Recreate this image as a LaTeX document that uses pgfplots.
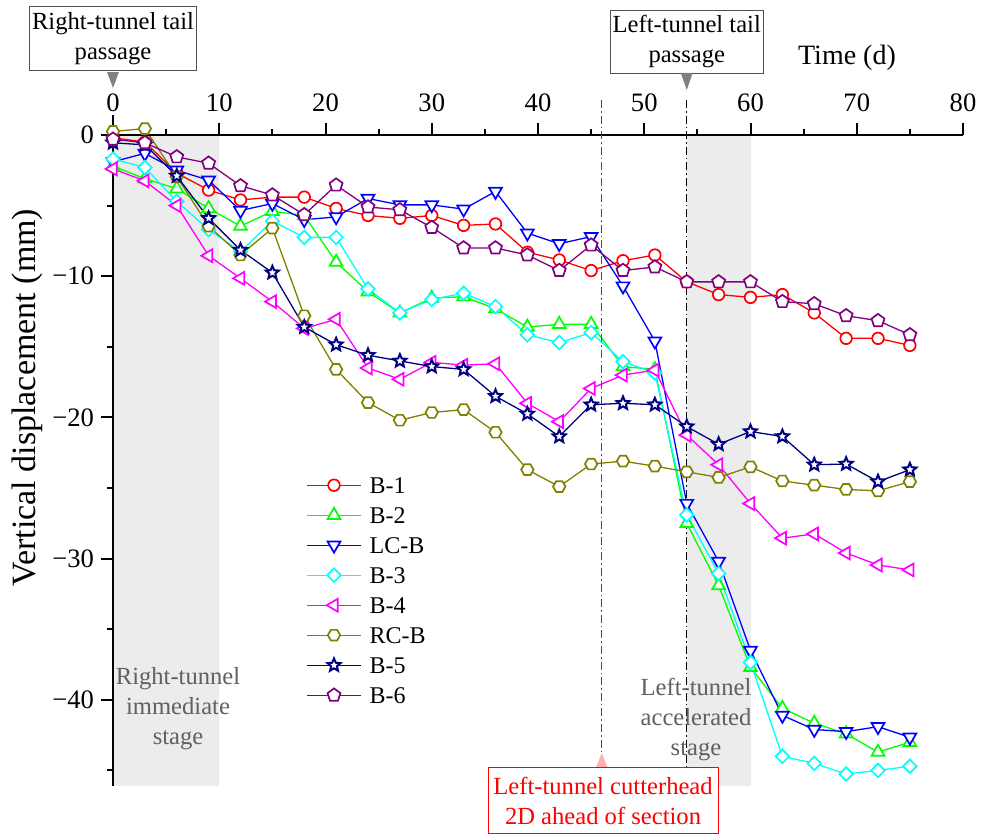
\documentclass[border=0pt]{standalone}
\usepackage{fontspec}
\setmainfont{Liberation Serif}
\usepackage{pgfplots}
\usepackage{pgfplotstable}
\pgfplotsset{compat=1.18}
\usetikzlibrary{plotmarks}

% hollow hexagon and hollow five-pointed star marks
\pgfdeclareplotmark{hexagon}{%
  \pgfpathmoveto{\pgfpointpolar{0}{\pgfplotmarksize}}%
  \pgfpathlineto{\pgfpointpolar{60}{\pgfplotmarksize}}%
  \pgfpathlineto{\pgfpointpolar{120}{\pgfplotmarksize}}%
  \pgfpathlineto{\pgfpointpolar{180}{\pgfplotmarksize}}%
  \pgfpathlineto{\pgfpointpolar{240}{\pgfplotmarksize}}%
  \pgfpathlineto{\pgfpointpolar{300}{\pgfplotmarksize}}%
  \pgfpathclose
  \pgfusepathqfillstroke
}
\pgfdeclareplotmark{ostar}{%
  \pgfpathmoveto{\pgfpointpolar{90}{\pgfplotmarksize}}%
  \pgfpathlineto{\pgfpointpolar{126}{0.45\pgfplotmarksize}}%
  \pgfpathlineto{\pgfpointpolar{162}{\pgfplotmarksize}}%
  \pgfpathlineto{\pgfpointpolar{198}{0.45\pgfplotmarksize}}%
  \pgfpathlineto{\pgfpointpolar{234}{\pgfplotmarksize}}%
  \pgfpathlineto{\pgfpointpolar{270}{0.45\pgfplotmarksize}}%
  \pgfpathlineto{\pgfpointpolar{306}{\pgfplotmarksize}}%
  \pgfpathlineto{\pgfpointpolar{342}{0.45\pgfplotmarksize}}%
  \pgfpathlineto{\pgfpointpolar{18}{\pgfplotmarksize}}%
  \pgfpathlineto{\pgfpointpolar{54}{0.45\pgfplotmarksize}}%
  \pgfpathclose
  \pgfusepathqfillstroke
}

\definecolor{cRed}{RGB}{255,0,0}
\definecolor{cGreen}{RGB}{0,255,0}
\definecolor{cBlue}{RGB}{0,0,255}
\definecolor{cCyan}{RGB}{0,255,255}
\definecolor{cMag}{RGB}{255,0,255}
\definecolor{cOlive}{RGB}{128,128,0}
\definecolor{cNavy}{RGB}{0,0,128}
\definecolor{cPurple}{RGB}{128,0,128}
\definecolor{stageshade}{RGB}{236,236,236}
\definecolor{boxgray}{RGB}{80,80,80}
\definecolor{stagegray}{RGB}{96,96,96}

% settlement (mm) of each monitoring point versus time (d)
\pgfplotstableread{
t   B1     B2     LCB    B3     B4     RCB    B5     B6
0   -0.2   -2.2   -1.9   -1.7   -2.4    0.25  -0.55  -0.3
3   -0.5   -3.1   -1.3   -2.3   -3.25   0.45  -0.7   -0.55
6   -2.7   -3.8   -2.5   -4.7   -5.0   -2.95  -2.9   -1.55
9   -3.9   -5.2   -3.2   -6.7   -8.55  -6.45  -5.9   -2.0
12  -4.6   -6.45  -5.35  -8.25 -10.15  -8.5   -8.15  -3.6
15  -4.4   -5.4   -4.85  -6.1  -11.8   -6.6   -9.75  -4.25
18  -4.4   -5.7   -6.0   -7.25 -13.7  -12.8  -13.6   -5.65
21  -5.2   -9.0   -5.8   -7.25 -13.05 -16.6  -14.85  -3.55
24  -5.7  -11.1   -4.5  -10.9  -16.5  -18.95 -15.6   -5.1
27  -5.9  -12.6   -4.95 -12.6  -17.3  -20.2  -16.0   -5.3
30  -5.7  -11.55  -4.95 -11.65 -16.1  -19.65 -16.4   -6.55
33  -6.4  -11.45  -5.25 -11.2  -16.3  -19.45 -16.6   -8.0
36  -6.3  -12.3   -4.0  -12.15 -16.2  -21.05 -18.5   -8.0
39  -8.3  -13.6   -6.95 -14.15 -19.0  -23.7  -19.75  -8.5
42  -8.85 -13.4   -7.7  -14.7  -20.3  -24.9  -21.35  -9.6
45  -9.6  -13.4   -7.2  -14.0  -17.95 -23.3  -19.1   -7.8
48  -8.9  -16.4  -10.7  -16.05 -17.0  -23.1  -19.0   -9.6
51  -8.5  -16.6  -14.6  -16.85 -16.65 -23.45 -19.1   -9.35
54 -10.4  -27.5  -26.1  -26.9  -21.25 -23.85 -20.65 -10.4
57 -11.3  -31.9  -30.2  -31.05 -23.35 -24.25 -21.9  -10.4
60 -11.5  -37.7  -36.5  -37.35 -26.1  -23.5  -21.0  -10.4
63 -11.3  -40.6  -41.1  -44.0  -28.55 -24.5  -21.35 -11.8
66 -12.6  -41.65 -42.1  -44.5  -28.25 -24.8  -23.35 -11.95
69 -14.4  -42.4  -42.25 -45.25 -29.6  -25.1  -23.3  -12.8
72 -14.4  -43.7  -41.9  -45.0  -30.45 -25.2  -24.55 -13.15
75 -14.9  -43.0  -42.65 -44.7  -30.8  -24.55 -23.7  -14.15
}\settlement

\begin{document}
\begin{tikzpicture}
\useasboundingbox (-56.5pt,-24pt) rectangle (438pt,393pt);
\begin{axis}[
  at={(0pt,0pt)}, anchor=south west,
  scale only axis,
  width=425pt, height=325.5pt,
  xmin=0, xmax=80, ymin=-46.1, ymax=0,
  clip=false,
  axis x line=top, axis y line=left,
  axis line style={-, line width=1pt, black},
  tick align=outside,
  major tick length=6pt, minor tick length=3pt,
  tick style={black, line width=1pt},
  xtick={0,10,...,80}, minor x tick num=1,
  ytick={-40,-30,-20,-10,0},
  yticklabels={−40,−30,−20,−10,0},
  minor y tick num=1,
  /pgf/number format/assume math mode=true,
  ticklabel style={font=\fontsize{13.3}{16}\selectfont},
  xticklabel style={yshift=2pt},
  every axis plot/.append style={line width=0.65pt},
  hollow/.style={mark options={solid, fill=white, line width=0.85pt, #1}},
  hollow/.default={},
  legend cell align=left,
  legend image code/.code={%
    \draw[mark repeat=2, mark phase=2] plot coordinates {(0pt,0pt) (13.5pt,0pt) (27pt,0pt)};},
  legend style={at={(axis description cs:0.227,0.478)}, anchor=north west,
    draw=none, fill=none, inner sep=0pt,
    font=\fontsize{12}{14}\selectfont,
    nodes={inner sep=1pt, text height=8pt, text depth=0pt},
    row sep=5pt, column sep=3pt},
]
% construction stages
\fill[stageshade] (axis cs:0,0) rectangle (axis cs:10,-46.1);
\fill[stageshade] (axis cs:54,0) rectangle (axis cs:60,-46.1);

\addplot[cRed, mark=*, mark size=2.9pt, hollow] table[x=t, y=B1] {\settlement};
\addlegendentry{B-1}
\addplot[cGreen, mark=triangle*, mark size=3.7pt, hollow] table[x=t, y=B2] {\settlement};
\addlegendentry{B-2}
\addplot[cBlue, mark=triangle*, mark size=3.7pt, hollow={rotate=180}] table[x=t, y=LCB] {\settlement};
\addlegendentry{LC-B}
\addplot[cCyan, mark=square*, mark size=2.4pt, hollow={rotate=45}] table[x=t, y=B3] {\settlement};
\addlegendentry{B-3}
\addplot[cMag, mark=triangle*, mark size=3.7pt, hollow={rotate=90}] table[x=t, y=B4] {\settlement};
\addlegendentry{B-4}
\addplot[cOlive, mark=hexagon, mark size=3.1pt, hollow] table[x=t, y=RCB] {\settlement};
\addlegendentry{RC-B}
\addplot[cNavy, mark=ostar, mark size=3.4pt, hollow={line width=1pt}] table[x=t, y=B5] {\settlement};
\addlegendentry{B-5}
\addplot[cPurple, mark=pentagon*, mark size=3.4pt, hollow] table[x=t, y=B6] {\settlement};
\addlegendentry{B-6}

% axis lines and ticks: x ticks point up from the zero line, y ticks point left
\draw[line width=1pt] (axis cs:0,-46.1) -- (axis cs:0,1.4);
\draw[line width=1pt] (axis cs:0,0) -- (axis cs:80,0);
\pgfplotsinvokeforeach{0,10,...,80}{\draw[line width=1pt] (axis cs:#1,0) -- (axis cs:#1,0.85);}
\pgfplotsinvokeforeach{5,15,...,75}{\draw[line width=1pt] (axis cs:#1,0) -- (axis cs:#1,0.43);}
\pgfplotsinvokeforeach{0,-10,...,-40}{\draw[line width=1pt] (axis cs:0,#1) -- (axis cs:-1.13,#1);}
\pgfplotsinvokeforeach{-5,-15,...,-45}{\draw[line width=1pt] (axis cs:0,#1) -- (axis cs:-0.57,#1);}

% reference lines
\draw[cRed, line width=0.7pt, dash pattern=on 4pt off 1.5pt on 0.8pt off 1.5pt]
  (axis cs:46,2.48) -- (axis cs:46,-43.8);
\draw[black, line width=0.7pt, dash pattern=on 4pt off 1.5pt on 0.8pt off 1.5pt]
  (axis cs:54,2.48) -- (axis cs:54,-44.8);

% annotations
\node[draw=boxgray, line width=0.5pt, fill=white, align=center, inner sep=1pt,
  minimum width=83pt, minimum height=32pt, font=\fontsize{12.3}{15}\selectfont]
  at (axis cs:0,6.80) {Right-tunnel tail\\passage};
\fill[gray] (axis cs:-0.56,4.46) -- (axis cs:0.56,4.46) -- (axis cs:0,3.33) -- cycle;

\node[draw=boxgray, line width=0.5pt, fill=white, align=center, inner sep=1pt,
  minimum width=76.5pt, minimum height=31.5pt, font=\fontsize{12.3}{15}\selectfont]
  at (axis cs:54,6.62) {Left-tunnel tail\\passage};
\fill[gray] (axis cs:53.44,4.39) -- (axis cs:54.56,4.39) -- (axis cs:54,3.19) -- cycle;

\node[font=\fontsize{14}{17}\selectfont] at (axis cs:69.08,5.45) {Time (d)};

\fill[cRed!30] (axis cs:45.4,-44.9) -- (axis cs:46.6,-44.9) -- (axis cs:46,-43.75) -- cycle;
\node[draw=cRed, text=cRed, line width=0.5pt, fill=white, align=center, inner sep=1pt,
  minimum width=115pt, minimum height=33pt, font=\fontsize{12.3}{15}\selectfont]
  at (axis cs:46.12,-47.15) {Left-tunnel cutterhead\\2D ahead of section};

\node[text=stagegray, align=center, font=\fontsize{12.3}{15}\selectfont]
  at (axis cs:6.12,-40.6) {Right-tunnel\\immediate\\stage};
\node[text=stagegray, align=center, font=\fontsize{12.3}{15}\selectfont]
  at (axis cs:54.87,-41.36) {Left-tunnel\\accelerated\\stage};

\node[rotate=90, font=\fontsize{17}{20}\selectfont] at (axis cs:-8.09,-18.6)
  {Vertical displacement (mm)};
\end{axis}
\end{tikzpicture}
\end{document}
